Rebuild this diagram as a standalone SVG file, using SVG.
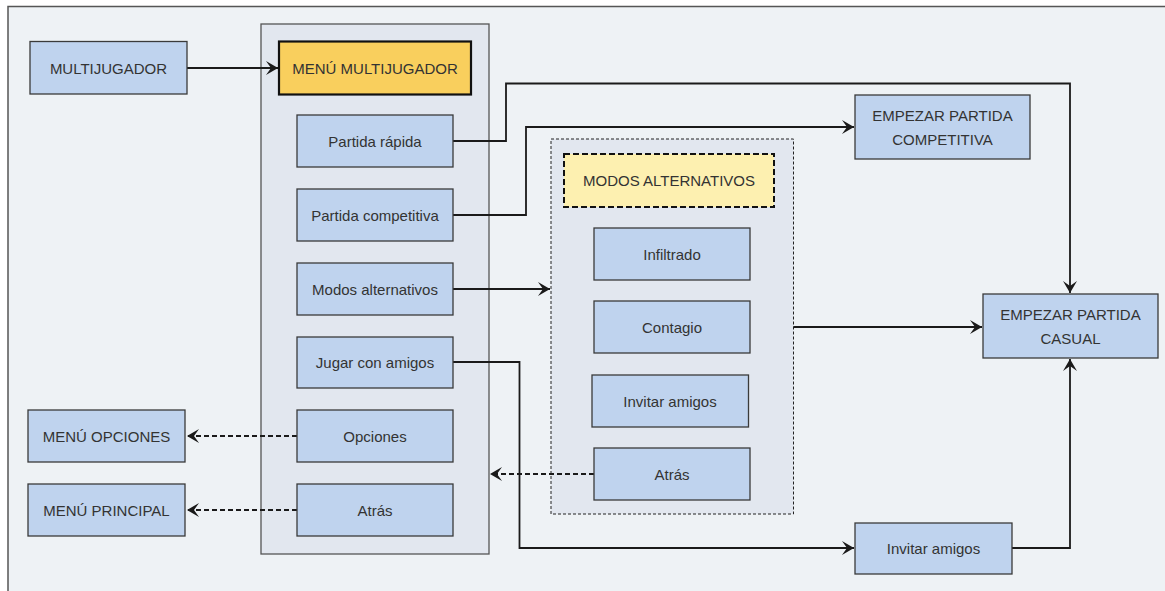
<svg xmlns="http://www.w3.org/2000/svg" width="1165" height="591" viewBox="0 0 1165 591">
<defs>
<style>
.n{fill:#bfd3ee;stroke:#3a3a3a;stroke-width:1.3}
.t{font-family:"Liberation Sans",Arial,sans-serif;font-size:15px;fill:#333;text-anchor:middle;dominant-baseline:central}
.c{fill:none;stroke:#1a1a1a;stroke-width:1.8}
.d{stroke-dasharray:5 3}
</style>
<marker id="a" viewBox="0 0 14 16" refX="13" refY="8" markerWidth="14" markerHeight="16" markerUnits="userSpaceOnUse" orient="auto">
<path d="M1,1 L13,8 L1,15 L6,8 Z" fill="#1a1a1a"/>
</marker>
</defs>
<rect x="0" y="0" width="1165" height="591" fill="#ffffff"/>
<rect id="frame" x="8" y="6.5" width="1170" height="600" fill="#eef2f5" stroke="#555" stroke-width="1.5"/>
<g id="menu-container"><rect x="261" y="24" width="228" height="530" fill="#e2e7ef" stroke="#555" stroke-width="1.3"/></g>
<g id="modos-container"><rect x="551" y="139" width="242.5" height="375" fill="#e2e7ef" stroke="#222" stroke-width="1" stroke-dasharray="3 2"/></g>
<g id="connectors">
<path class="c" d="M187,68 H278" marker-end="url(#a)"/>
<path class="c" d="M453,141 H506 V83.5 H1070 V293" marker-end="url(#a)"/>
<path class="c" d="M453,215 H526 V127 H854" marker-end="url(#a)"/>
<path class="c" d="M453,289 H550" marker-end="url(#a)"/>
<path class="c" d="M793.5,327 H982" marker-end="url(#a)"/>
<path class="c" d="M453,362 H519.5 V548 H854" marker-end="url(#a)"/>
<path class="c" d="M1012,548 H1070 V359" marker-end="url(#a)"/>
<path class="c d" d="M297,436 H187" marker-end="url(#a)"/>
<path class="c d" d="M297,510 H187" marker-end="url(#a)"/>
<path class="c d" d="M594,474 H490" marker-end="url(#a)"/>
</g>
<g id="multijugador"><rect class="n" x="30" y="41.5" width="157" height="52.5"/><text class="t" x="108.5" y="68">MULTIJUGADOR</text></g>
<g id="menu-multijugador"><rect x="279" y="41.5" width="192" height="53" fill="#f9cf5d" stroke="#111" stroke-width="2.2"/><text class="t" x="375" y="68">MENÚ MULTIJUGADOR</text></g>
<g id="partida-rapida"><rect class="n" x="297" y="115" width="156" height="52"/><text class="t" x="375" y="141">Partida rápida</text></g>
<g id="partida-competitiva"><rect class="n" x="297" y="189" width="156" height="52"/><text class="t" x="375" y="215">Partida competitiva</text></g>
<g id="modos-alternativos"><rect class="n" x="297" y="263" width="156" height="52"/><text class="t" x="375" y="289">Modos alternativos</text></g>
<g id="jugar-con-amigos"><rect class="n" x="297" y="337" width="156" height="51"/><text class="t" x="375" y="362.5">Jugar con amigos</text></g>
<g id="opciones"><rect class="n" x="297" y="410" width="156" height="52"/><text class="t" x="375" y="436">Opciones</text></g>
<g id="atras"><rect class="n" x="297" y="484" width="156" height="52"/><text class="t" x="375" y="510">Atrás</text></g>
<g id="menu-opciones"><rect class="n" x="28" y="410" width="157" height="52"/><text class="t" x="106.5" y="436">MENÚ OPCIONES</text></g>
<g id="menu-principal"><rect class="n" x="28" y="484" width="157" height="52"/><text class="t" x="106.5" y="510">MENÚ PRINCIPAL</text></g>
<g id="modos-titulo"><rect x="564" y="154" width="210" height="53" fill="#fdf0b0" stroke="#111" stroke-width="2" stroke-dasharray="6 3"/><text class="t" x="669" y="180.5">MODOS ALTERNATIVOS</text></g>
<g id="infiltrado"><rect class="n" x="594" y="228" width="156" height="52"/><text class="t" x="672" y="254">Infiltrado</text></g>
<g id="contagio"><rect class="n" x="594" y="301" width="156" height="52"/><text class="t" x="672" y="327">Contagio</text></g>
<g id="invitar-amigos-inner"><rect class="n" x="592" y="375" width="156.5" height="52"/><text class="t" x="670" y="401">Invitar amigos</text></g>
<g id="atras-inner"><rect class="n" x="594" y="448" width="156" height="52"/><text class="t" x="672" y="474">Atrás</text></g>
<g id="empezar-competitiva"><rect class="n" x="855" y="95" width="175" height="64"/><text class="t" x="942.5" y="115.5">EMPEZAR PARTIDA</text><text class="t" x="942.5" y="139">COMPETITIVA</text></g>
<g id="empezar-casual"><rect class="n" x="983" y="294" width="175" height="64"/><text class="t" x="1070.5" y="314.5">EMPEZAR PARTIDA</text><text class="t" x="1070.5" y="338">CASUAL</text></g>
<g id="invitar-amigos"><rect class="n" x="855" y="523" width="157" height="51"/><text class="t" x="933.5" y="548.5">Invitar amigos</text></g>
</svg>
